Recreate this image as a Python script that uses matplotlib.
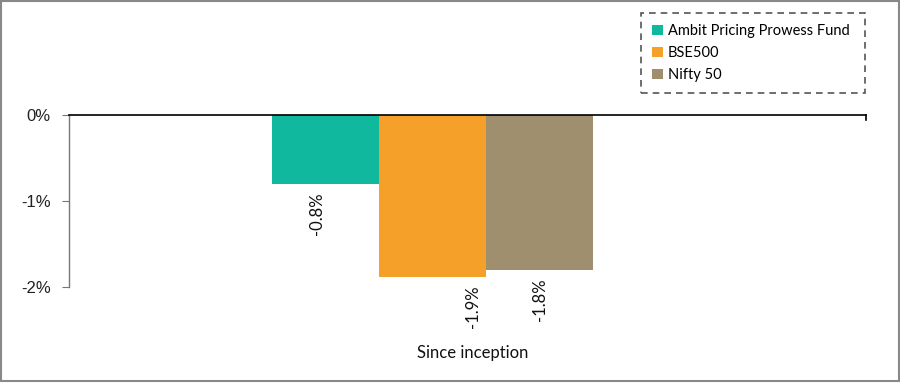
import matplotlib.pyplot as plt
from matplotlib.patches import Rectangle

series = ["Ambit Pricing Prowess Fund", "BSE500", "Nifty 50"]
values = [-0.8, -1.88, -1.8]
value_labels = ["-0.8%", "-1.9%", "-1.8%"]
colors = ["#10B89E", "#F5A028", "#A08F6F"]
category = "Since inception"
yticks = [0, -1, -2]
ytick_labels = ["0%", "-1%", "-2%"]

# label offsets from bar centre, in bar widths (mimics original label layout)
label_dx = [-0.08, 0.38, 0.0]

plt.rcParams['font.family'] = ['Lato', 'DejaVu Sans']

fig = plt.figure(figsize=(9, 3.87), dpi=100)
ax = fig.add_axes([69 / 900, 1 - 287 / 387, (866 - 69) / 900, (287 - 115) / 387])

width = 1.0
for i, (name, v, c) in enumerate(zip(series, values, colors)):
    ax.bar(i * width, v, width=width, align='edge', color=c, label=name, zorder=2)
    ax.annotate(value_labels[i], xy=(i * width + width / 2 + label_dx[i] * width, v),
                xytext=(0, -6), textcoords='offset points', rotation=90,
                ha='center', va='top', fontsize=12, color='#111111')

ax.set_xlim(-1.9, 5.55)
ax.set_ylim(-2, 0)
ax.set_yticks(yticks)
ax.set_yticklabels(ytick_labels, fontfamily='Liberation Sans', fontsize=12, color='#222222')
ax.set_xticks([])
ax.tick_params(axis='y', length=5, color='#777777', pad=8)

ax.spines['left'].set_color('#777777')
ax.spines['left'].set_linewidth(1)
ax.spines['top'].set_color('black')
ax.spines['top'].set_linewidth(1.2)
ax.spines['bottom'].set_visible(False)
ax.spines['right'].set_color('black')
ax.spines['right'].set_linewidth(1.2)
ax.spines['right'].set_bounds(-0.06, 0)

fig.text(473 / 900, 1 - 353 / 387, category, ha='center', va='center', fontsize=12, color='#111111')

leg = ax.legend(loc='upper left', bbox_to_anchor=(641 / 900, 1 - 90 / 387, 224 / 900, 77 / 387),
                bbox_transform=fig.transFigure, mode='expand', borderaxespad=0, fontsize=10.5,
                handlelength=0.75, handleheight=0.75, handletextpad=0.35,
                labelspacing=0.55, borderpad=0.75, fancybox=False, framealpha=1)
leg.get_frame().set_edgecolor('#555555')
leg.get_frame().set_linestyle((0, (4, 3)))
leg.get_frame().set_linewidth(1.2)

fig.patches.append(Rectangle((0.0006, 6 / 387), 0.9988, 1 - 6 / 387 - 0.0015,
                             transform=fig.transFigure, fill=False,
                             edgecolor='#888888', linewidth=1.5))

fig.savefig("out.png", dpi=100)
